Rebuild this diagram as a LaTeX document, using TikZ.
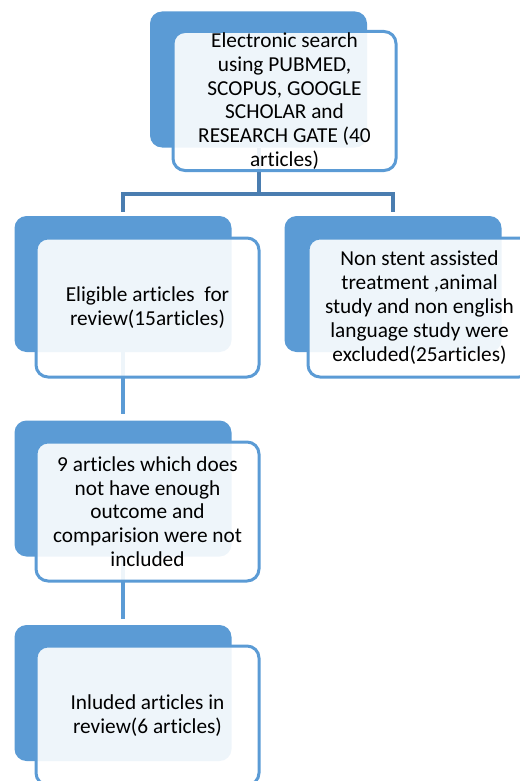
\documentclass[tikz,border=0pt]{standalone}
\usepackage{fontspec}
\setmainfont{Carlito}[Ligatures=NoCommon]
\definecolor{boxblue}{HTML}{5B9BD5}
\definecolor{linkblue}{HTML}{4A7DB0}

\begin{document}
\begin{tikzpicture}[
  x=1pt, y=-1pt,
  back/.style={fill=boxblue, rounded corners=12pt, minimum width=217pt, minimum height=136pt, inner sep=0pt},
  front/.style={draw=boxblue, line width=3pt, fill=white, fill opacity=0.9, text opacity=1, rounded corners=12pt, minimum width=223pt, minimum height=139pt, align=center, inner sep=0pt, font=\fontsize{21.3}{23.8}\selectfont},
  link/.style={draw=linkblue, line width=4pt},
  down/.style={draw=boxblue, line width=3.5pt, shorten >=6pt}
]
  \useasboundingbox (0,0) rectangle (519,781);

  % Connectors
  \coordinate (split) at (258.5,194);
  \node[back, fill=none] (searchback) at (258.5,79.5) {};
  \node[back, fill=none] (eligibleback) at (123,284) {};
  \node[back, fill=none] (excludedback) at (393,284) {};
  \node[back, fill=none] (partialback) at (123,488.5) {};
  \node[back, fill=none] (includedback) at (123,693) {};
  \draw[link] (searchback) -- (split);
  \draw[link, shorten >=4pt] (split) -| (eligibleback);
  \draw[link, shorten >=4pt] (split) -| (excludedback);
  \draw[down] (eligibleback) -- (partialback);
  \draw[down] (partialback) -- (includedback);

  % Search
  \node[back] at (searchback) {};
  \node[front] (search) at (284.5,101) {Electronic search\\using PUBMED,\\SCOPUS, GOOGLE\\SCHOLAR and\\RESEARCH GATE (40\\articles)};

  % Eligible
  \node[back] at (eligibleback) {};
  \node[front] (eligible) at (147.5,307.5) {Eligible articles\ \ for\\review(15articles)};

  % Excluded
  \node[back] at (excludedback) {};
  \node[front] (excluded) at (419.5,307.5) {Non stent assisted\\treatment ,animal\\study and non english\\language study were\\excluded(25articles)};

  % Not included
  \node[back] at (partialback) {};
  \node[front] (partial) at (147.5,511.5) {9 articles which does\\not have enough\\outcome and\\comparision were not\\included};

  % Included
  \node[back] at (includedback) {};
  \node[front] (included) at (147.5,715.5) {Inluded articles in\\review(6 articles)};

\end{tikzpicture}
\end{document}
